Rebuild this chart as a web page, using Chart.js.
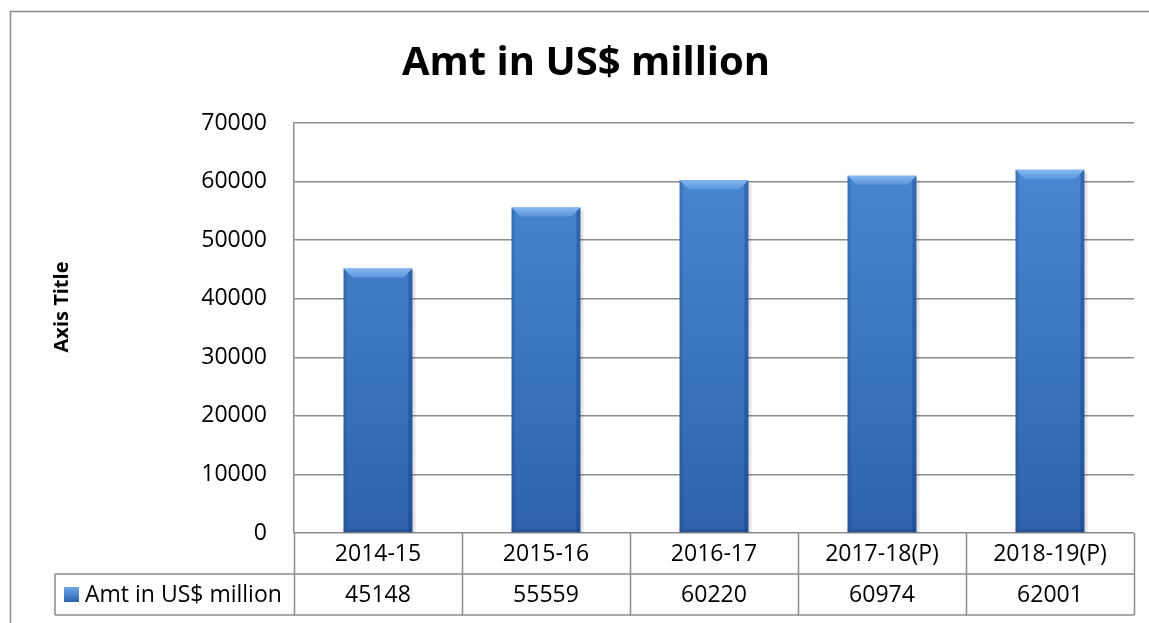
<!DOCTYPE html>
<html>
<head>
<meta charset="utf-8">
<script src="https://cdn.jsdelivr.net/npm/chart.js@4.4.0/dist/chart.umd.min.js"></script>
<style>
    html, body { margin: 0; padding: 0; background: #fff; }
    #wrap { width: 1149px; height: 623px; }
</style>
</head>
<body>
<div id="wrap"><canvas id="amtChart" width="1149" height="623"></canvas></div>
<script>
const categories = ['2014-15', '2015-16', '2016-17', '2017-18(P)', '2018-19(P)'];
const amounts = [45148, 55559, 60220, 60974, 62001];
const seriesName = 'Amt in US$ million';
const chartTitle = 'Amt in US$ million';
const yAxisTitle = 'Axis Title';
const yMin = 0;
const yMax = 70000;
const yStep = 10000;

const FONT = "'Open Sans', 'Noto Sans', sans-serif";
const LINE = '#8c8c8c';

// frame, title, axis title
const decorPlugin = {
    id: 'decor',
    beforeDraw(chart) {
        const ctx = chart.ctx;
        ctx.save();
        ctx.fillStyle = '#fff';
        ctx.fillRect(0, 0, chart.width, chart.height);
        ctx.strokeStyle = LINE;
        ctx.lineWidth = 1.5;
        ctx.strokeRect(10.5, 11.5, 1400, 800);

        ctx.fillStyle = '#000';
        ctx.font = 'bold 40px ' + FONT;
        ctx.textAlign = 'center';
        ctx.textBaseline = 'alphabetic';
        ctx.fillText(chartTitle, 586, 75);

        ctx.translate(62, 307);
        ctx.rotate(-Math.PI / 2);
        ctx.font = 'bold 20px ' + FONT;
        ctx.textBaseline = 'middle';
        ctx.fillText(yAxisTitle, 0, 0);
        ctx.restore();
    },
    afterDraw(chart) {
        // data table under the plot
        const ctx = chart.ctx;
        const xs = chart.scales.x;
        const area = chart.chartArea;
        const step = (area.right - area.left) / categories.length;
        const row0 = area.bottom, row1 = row0 + 41, row2 = row1 + 41;
        const legendLeft = 55;

        ctx.save();
        ctx.strokeStyle = LINE;
        ctx.lineWidth = 1.5;
        ctx.beginPath();
        ctx.moveTo(legendLeft, row1); ctx.lineTo(area.right, row1);
        ctx.moveTo(legendLeft, row2); ctx.lineTo(area.right, row2);
        ctx.moveTo(legendLeft, row1); ctx.lineTo(legendLeft, row2);
        for (let i = 0; i <= categories.length; i++) {
            const bx = Math.round(area.left + i * step) + 0.5;
            ctx.moveTo(bx, row0); ctx.lineTo(bx, row2);
        }
        ctx.stroke();

        ctx.fillStyle = '#000';
        ctx.font = '23px ' + FONT;
        ctx.textAlign = 'center';
        ctx.textBaseline = 'middle';
        categories.forEach((c, i) => {
            const cx = xs.getPixelForValue(i);
            ctx.fillText(c, cx, (row0 + row1) / 2 + 1);
            ctx.fillText(String(amounts[i]), cx, (row1 + row2) / 2 + 1);
        });

        // legend key
        const g = ctx.createLinearGradient(64, 587, 64, 602);
        g.addColorStop(0, '#6fa6ea');
        g.addColorStop(1, '#2d62aa');
        ctx.fillStyle = g;
        ctx.fillRect(64, 587, 15, 15);
        ctx.fillStyle = '#000';
        ctx.textAlign = 'left';
        ctx.fillText(seriesName, 85, (row1 + row2) / 2 + 1);
        ctx.restore();
    }
};

// bevel and edge shading on top of the bars
const bevelPlugin = {
    id: 'bevel',
    afterDatasetsDraw(chart) {
        const ctx = chart.ctx;
        const meta = chart.getDatasetMeta(0);
        ctx.save();
        meta.data.forEach(bar => {
            const l = bar.x - bar.width / 2;
            const r = bar.x + bar.width / 2;
            const t = bar.y;
            const b = bar.base;
            const bv = 9;

            ctx.fillStyle = 'rgba(0,0,0,0.10)';
            ctx.fillRect(r, t + 3, 3, b - t - 3);

            const tg = ctx.createLinearGradient(0, t, 0, t + bv);
            tg.addColorStop(0, '#86b8f0');
            tg.addColorStop(1, '#5b95dc');
            ctx.fillStyle = tg;
            ctx.beginPath();
            ctx.moveTo(l, t); ctx.lineTo(r, t);
            ctx.lineTo(r - bv, t + bv); ctx.lineTo(l + bv, t + bv);
            ctx.closePath();
            ctx.fill();

            ctx.fillStyle = 'rgba(20,50,110,0.22)';
            ctx.beginPath();
            ctx.moveTo(l, t); ctx.lineTo(l + 3, t + 3);
            ctx.lineTo(l + 3, b); ctx.lineTo(l, b);
            ctx.closePath();
            ctx.fill();

            ctx.fillStyle = 'rgba(20,50,110,0.35)';
            ctx.beginPath();
            ctx.moveTo(r, t); ctx.lineTo(r - 4, t + 4);
            ctx.lineTo(r - 4, b); ctx.lineTo(r, b);
            ctx.closePath();
            ctx.fill();

            ctx.fillStyle = 'rgba(20,50,110,0.25)';
            ctx.fillRect(l, b - 3, r - l, 3);
        });
        ctx.restore();
    }
};

new Chart(document.getElementById('amtChart'), {
    type: 'bar',
    data: {
        labels: categories,
        datasets: [{
            label: seriesName,
            data: amounts,
            backgroundColor: (c) => {
                const a = c.chart.chartArea;
                if (!a) return '#3f7fcf';
                const g = c.chart.ctx.createLinearGradient(0, a.top, 0, a.bottom);
                g.addColorStop(0, '#4c8bd8');
                g.addColorStop(1, '#2e63ab');
                return g;
            },
            borderWidth: 0,
            barPercentage: 0.41,
            categoryPercentage: 1
        }]
    },
    options: {
        responsive: false,
        animation: false,
        devicePixelRatio: 1,
        layout: { padding: { top: 123, right: 15, bottom: 8, left: 0 } },
        plugins: {
            legend: { display: false },
            title: { display: false },
            tooltip: { enabled: false }
        },
        scales: {
            x: {
                grid: { display: false },
                border: { display: false },
                ticks: { display: false },
                afterFit: (s) => { s.height = 82; }
            },
            y: {
                min: yMin,
                max: yMax,
                ticks: {
                    stepSize: yStep,
                    color: '#000',
                    padding: 27,
                    font: { family: FONT, size: 23 },
                    callback: (v) => String(v)
                },
                grid: { color: LINE, lineWidth: 1.5, drawTicks: false },
                border: { color: LINE, width: 1.5 },
                afterFit: (s) => { s.width = 294; }
            }
        }
    },
    plugins: [decorPlugin, bevelPlugin]
});
</script>
</body>
</html>
